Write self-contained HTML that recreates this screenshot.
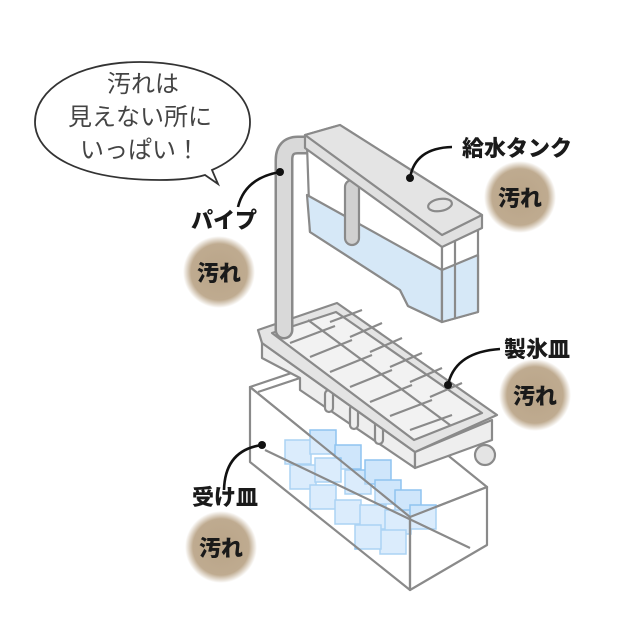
<!DOCTYPE html>
<html><head><meta charset="utf-8"><style>
html,body{margin:0;padding:0;background:#fff;}
svg{display:block;}
.lbl{font-family:"Liberation Sans","Noto Sans CJK JP",sans-serif;font-weight:900;fill:#1a1a1a;}
.bub{font-family:"Liberation Sans","Noto Sans CJK JP",sans-serif;fill:#444;font-size:24px;}
</style></head><body>
<svg width="640" height="640" viewBox="0 0 640 640" xmlns="http://www.w3.org/2000/svg">
<defs>
<radialGradient id="bd" cx="50%" cy="50%" r="50%">
<stop offset="0%" stop-color="#b9a488"/><stop offset="78%" stop-color="#bfab90"/><stop offset="100%" stop-color="#bfab90" stop-opacity="0"/>
</radialGradient>
</defs>
<path d="M140,62 C75,62 35,90 35,122 C35,155 80,180 160,180 C180,180 195,178 205,175 L218,184 L212,170 C240,158 250,140 250,122 C250,88 205,62 140,62 Z" fill="#fff" stroke="#333" stroke-width="1.8"/>
<text class="bub" x="143" y="92" text-anchor="middle">汚れは</text>
<text class="bub" x="140" y="125" text-anchor="middle">見えない所に</text>
<text class="bub" x="140" y="158" text-anchor="middle">いっぱい！</text>

<g stroke="#8a8a8a" stroke-width="2.2" stroke-linejoin="round" fill="none">
<polygon points="250,387 330,360 487,487 410,517" fill="#fff"/>
<line x1="258" y1="392" x2="330" y2="368"/>
</g>
<g fill="#cfe6fb" stroke="#8fc4f0" stroke-width="1.5">
<rect x="285" y="440" width="26" height="24"/><rect x="310" y="430" width="26" height="24"/><rect x="335" y="445" width="26" height="24"/>
<rect x="290" y="465" width="26" height="24"/><rect x="315" y="458" width="26" height="24"/><rect x="345" y="470" width="26" height="24"/>
<rect x="365" y="460" width="26" height="24"/><rect x="375" y="480" width="26" height="24"/><rect x="395" y="490" width="26" height="24"/>
<rect x="310" y="485" width="26" height="24"/><rect x="335" y="500" width="26" height="24"/><rect x="360" y="505" width="26" height="24"/>
<rect x="385" y="510" width="26" height="24"/><rect x="410" y="505" width="26" height="24"/><rect x="380" y="530" width="26" height="24"/>
<rect x="355" y="525" width="26" height="24"/>
</g>
<g stroke="#8a8a8a" stroke-width="2.2" stroke-linejoin="round" fill="none">
<polygon points="250,387 410,517 410,590 250,462" fill="#fff" fill-opacity="0.25"/>
<polygon points="410,517 487,487 487,545 410,590" fill="#fff" fill-opacity="0.25"/>
<line x1="265" y1="450" x2="470" y2="548"/>
</g>

<g stroke="#8a8a8a" stroke-width="2.2" stroke-linejoin="round">
<polygon points="262,343 415,452 415,468 300,390 300,378 262,358" fill="#eeeeee"/>
<polygon points="415,452 492,420 492,440 415,468" fill="#eeeeee"/>
<g fill="#eee">
<rect x="325" y="390" width="8" height="22" rx="4"/><rect x="350" y="405" width="8" height="24" rx="4"/><rect x="375" y="420" width="8" height="24" rx="4"/>
</g>
<polygon points="258,330 337,303 497,415 415,452 262,343" fill="#e4e4e4"/>
<polygon points="272,333 336,312 482,413 414,440" fill="#f2f2f2"/>
<circle cx="485" cy="455" r="10" fill="#e4e4e4"/>
<g fill="none">
<line x1="308" y1="320" x2="450" y2="425"/>
<line x1="290" y1="343" x2="335" y2="326"/><line x1="310" y1="357" x2="352" y2="340"/>
<line x1="330" y1="372" x2="372" y2="355"/><line x1="350" y1="387" x2="392" y2="370"/>
<line x1="370" y1="402" x2="412" y2="385"/><line x1="390" y1="416" x2="432" y2="400"/>
<line x1="410" y1="430" x2="452" y2="415"/>
<line x1="330" y1="322" x2="362" y2="310"/><line x1="350" y1="337" x2="382" y2="323"/>
<line x1="370" y1="352" x2="402" y2="338"/><line x1="390" y1="367" x2="422" y2="353"/>
<line x1="410" y1="382" x2="442" y2="368"/><line x1="430" y1="397" x2="462" y2="383"/>
</g>
</g>

<path d="M284,330 L284,160 Q284,145 298,145 L310,145" fill="none" stroke="#8a8a8a" stroke-width="19" stroke-linecap="round"/>
<path d="M284,330 L284,160 Q284,145 298,145 L310,145" fill="none" stroke="#d9d9d9" stroke-width="14" stroke-linecap="round"/>

<g stroke="#8a8a8a" stroke-width="2.2" stroke-linejoin="round">
<polygon points="307,145 442,240 442,322 408,306 400,290 310,232" fill="#fff"/>
<polygon points="307,195 442,270 442,322 408,306 400,290 310,232" fill="#d6e8f7"/>
<polygon points="442,240 478,222 478,312 442,322" fill="#fff"/>
<polygon points="442,270 478,255 478,312 442,322" fill="#d6e8f7"/>
<line x1="455" y1="238" x2="455" y2="318" fill="none"/>
<rect x="345" y="180" width="14" height="65" rx="7" fill="#d0d0d0"/>
<polygon points="305,135 340,125 482,215 482,228 442,247 305,148" fill="#e0e0e0"/>
<polygon points="305,135 340,125 482,215 442,235" fill="#e4e4e4"/>
<ellipse cx="440" cy="205" rx="12" ry="6" fill="none" transform="rotate(-10 440 205)"/>
</g>

<g stroke="#111" stroke-width="2.6" fill="none">
<path d="M238,207 Q245,178 280,172"/>
<path d="M452,147 Q415,148 410,178"/>
<path d="M500,349 Q455,352 448,385"/>
<path d="M224,490 Q225,450 262,445"/>
</g>
<g fill="#111">
<circle cx="280" cy="172" r="4"/><circle cx="410" cy="178" r="4"/><circle cx="448" cy="385" r="4"/><circle cx="262" cy="445" r="4"/>
</g>

<text class="lbl" x="224" y="228" font-size="22" text-anchor="middle">パイプ</text>
<text class="lbl" x="517" y="156" font-size="22" text-anchor="middle">給水タンク</text>
<text class="lbl" x="537" y="357" font-size="22" text-anchor="middle">製氷皿</text>
<text class="lbl" x="225" y="505" font-size="22" text-anchor="middle">受け皿</text>

<circle cx="219" cy="272" r="36" fill="url(#bd)"/>
<circle cx="520" cy="197" r="36" fill="url(#bd)"/>
<circle cx="535" cy="395" r="36" fill="url(#bd)"/>
<circle cx="221" cy="547" r="36" fill="url(#bd)"/>
<text class="lbl" x="219" y="281" font-size="22" text-anchor="middle">汚れ</text>
<text class="lbl" x="520" y="206" font-size="22" text-anchor="middle">汚れ</text>
<text class="lbl" x="535" y="404" font-size="22" text-anchor="middle">汚れ</text>
<text class="lbl" x="221" y="556" font-size="22" text-anchor="middle">汚れ</text>
</svg>
</body></html>
